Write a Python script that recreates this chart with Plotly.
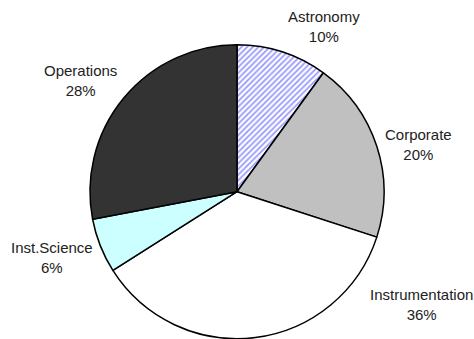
import plotly.graph_objects as go

# Budget share by area (percent)
categories = ["Astronomy", "Corporate", "Instrumentation", "Inst.Science", "Operations"]
shares = [10, 20, 36, 6, 28]
slice_colors = ["#ffffff", "#c0c0c0", "#ffffff", "#ccffff", "#333333"]
slice_patterns = ["/", "", "", "", ""]

W, H = 474, 339

fig = go.Figure(
    go.Pie(
        labels=categories,
        values=shares,
        sort=False,
        direction="clockwise",
        rotation=0,
        textinfo="none",
        hoverinfo="skip",
        showlegend=False,
        marker=dict(
            colors=slice_colors,
            line=dict(color="#000000", width=1.5),
            pattern=dict(
                shape=slice_patterns,
                fgcolor="#9999ff",
                bgcolor="#ffffff",
                size=4,
                solidity=0.45,
            ),
        ),
        domain=dict(x=[90 / W, 384 / W], y=[0.3 / H, 294.3 / H]),
    )
)

# Label anchor points in pixels (center of each two-line label)
label_px = [(324, 26.5), (418, 144), (421, 304), (52, 257.5), (80, 80)]

for name, val, (px, py) in zip(categories, shares, label_px):
    fig.add_annotation(
        x=px / W, y=1 - py / H, xref="paper", yref="paper",
        text=f"{name}<br>{val}%", showarrow=False,
        xanchor="center", yanchor="middle", align="center",
        font=dict(family="Liberation Sans, Arial, sans-serif", size=15, color="#222222"),
    )

fig.update_layout(
    width=W, height=H,
    margin=dict(l=0, r=0, t=0, b=0),
    paper_bgcolor="#ffffff",
    plot_bgcolor="#ffffff",
)

fig.write_html("out.html")
